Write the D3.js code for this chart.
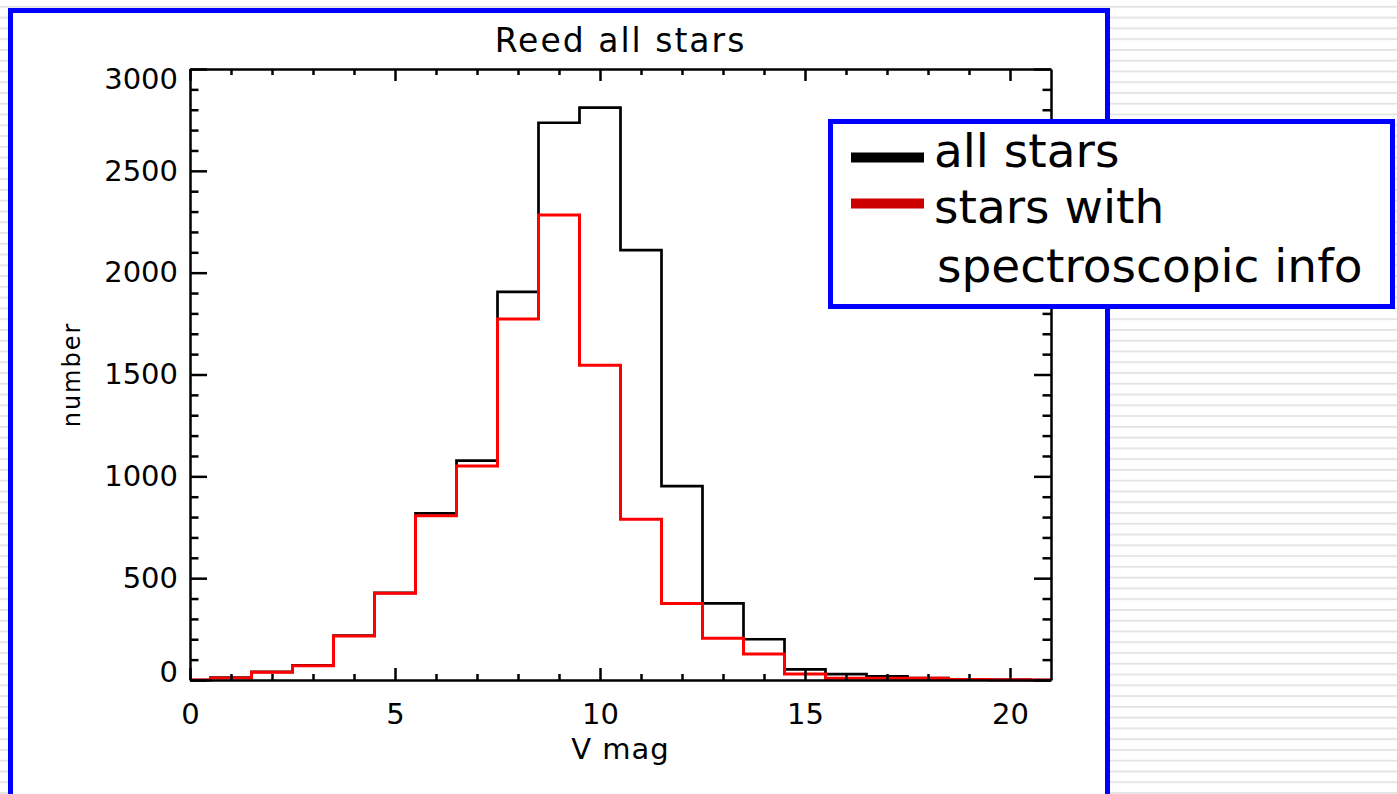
<!DOCTYPE html>
<html>
<head>
<meta charset="utf-8">
<script src="https://cdn.jsdelivr.net/npm/d3@7"></script>
<style>
  html, body { margin: 0; padding: 0; background: #fff; }
  svg { display: block; }
  text { font-family: "DejaVu Sans", sans-serif; fill: #000; }
  .axis path, .axis line { stroke: #000; stroke-width: 2.5; }
  .axis text { font-size: 29px; font-family: "DejaVu Sans", sans-serif; }
</style>
</head>
<body>
<svg id="chart" width="1397" height="794"></svg>
<script>
// Histogram of V magnitude, bin centres (1 mag bins)
const binCenters = [0, 1, 2, 3, 4, 5, 6, 7, 8, 9, 10, 11, 12, 13, 14, 15, 16, 17, 18, 19, 20, 21];
const allStars   = [0, 12, 40, 72, 218, 428, 818, 1077, 1906, 2736, 2810, 2111, 952, 376, 200, 52, 29, 18, 9, 2, 1, 0];
const specStars  = [0, 10, 38, 70, 216, 426, 807, 1051, 1772, 2283, 1546, 789, 376, 205, 128, 29, 8, 8, 8, 2, 1, 0];

const xMajorTicks = [0, 5, 10, 15, 20];
const xMinorTicks = [1, 2, 3, 4, 6, 7, 8, 9, 11, 12, 13, 14, 16, 17, 18, 19];
const yMajorTicks = [0, 500, 1000, 1500, 2000, 2500, 3000];
const yMinorTicks = [100, 200, 300, 400, 600, 700, 800, 900, 1100, 1200, 1300, 1400,
                     1600, 1700, 1800, 1900, 2100, 2200, 2300, 2400, 2600, 2700, 2800, 2900];

const legendItems = [
  { label: ["all stars"], color: "#000000" },
  { label: ["stars with", "spectroscopic info"], color: "#cc0000" }
];

const svg = d3.select("#chart");
const W = 1397, H = 794;

// --- background: slide stripes + framed white panel -----------------------
const defs = svg.append("defs");
const pat = defs.append("pattern")
  .attr("id", "stripes")
  .attr("patternUnits", "userSpaceOnUse")
  .attr("width", 20).attr("height", 10.77)
  .attr("y", 5.9);
pat.append("rect").attr("width", 20).attr("height", 10.77).attr("fill", "#ffffff");
pat.append("rect").attr("width", 20).attr("height", 1.7).attr("fill", "#e2e2e2");

svg.append("rect").attr("width", W).attr("height", H).attr("fill", "url(#stripes)");
svg.append("rect")
  .attr("x", 10.5).attr("y", 10.5)
  .attr("width", 1097).attr("height", 786)
  .attr("fill", "#fff").attr("stroke", "#0000ff").attr("stroke-width", 5);

// --- plot area -------------------------------------------------------------
const plot = { left: 190, right: 1051, top: 69, bottom: 680 };

const x = d3.scaleLinear().domain([0, 21]).range([plot.left, plot.right]);
const y = d3.scaleLinear().domain([0, 3000]).range([plot.bottom, plot.top]);

defs.append("clipPath").attr("id", "plotclip")
  .append("rect")
  .attr("x", plot.left).attr("y", plot.top - 2)
  .attr("width", plot.right - plot.left).attr("height", plot.bottom - plot.top + 4);

const step = d3.line()
  .x(d => x(d[0]))
  .y(d => y(d[1]))
  .curve(d3.curveStep);

const hist = svg.append("g").attr("clip-path", "url(#plotclip)");
hist.append("path")
  .datum(binCenters.map((c, i) => [c, allStars[i]]))
  .attr("d", step)
  .attr("fill", "none").attr("stroke", "#000").attr("stroke-width", 2.7);
hist.append("path")
  .datum(binCenters.map((c, i) => [c, specStars[i]]))
  .attr("d", step)
  .attr("fill", "none").attr("stroke", "#ff0000").attr("stroke-width", 3);

// --- axes (IDL style: ticks on all four sides, pointing inwards) ------------
function addAxis(axis, tx, ty, keepDomain) {
  const g = svg.append("g").attr("class", "axis")
    .attr("transform", `translate(${tx},${ty})`).call(axis);
  if (!keepDomain) g.select(".domain").remove();
  return g;
}

addAxis(d3.axisBottom(x).tickValues(xMajorTicks)
  .tickSizeInner(-12).tickSizeOuter(0).tickPadding(23), 0, plot.bottom, true);
addAxis(d3.axisBottom(x).tickValues(xMinorTicks).tickSize(-6).tickFormat(""), 0, plot.bottom, false);
addAxis(d3.axisTop(x).tickValues(xMajorTicks).tickSizeInner(-12).tickSizeOuter(0).tickFormat(""), 0, plot.top, true);
addAxis(d3.axisTop(x).tickValues(xMinorTicks).tickSize(-6).tickFormat(""), 0, plot.top, false);

const yLeft = addAxis(d3.axisLeft(y).tickValues(yMajorTicks)
  .tickSizeInner(-17).tickSizeOuter(0).tickPadding(12).tickFormat(d3.format("d")), plot.left, 0, true);
addAxis(d3.axisLeft(y).tickValues(yMinorTicks).tickSize(-8.5).tickFormat(""), plot.left, 0, false);
addAxis(d3.axisRight(y).tickValues(yMajorTicks).tickSizeInner(-17).tickSizeOuter(0).tickFormat(""), plot.right, 0, true);
addAxis(d3.axisRight(y).tickValues(yMinorTicks).tickSize(-8.5).tickFormat(""), plot.right, 0, false);

svg.selectAll(".axis text").attr("fill", "#000");
// end labels are pulled inside the axis range, as in the original plot
yLeft.selectAll(".tick text")
  .attr("transform", d => d === 0 ? "translate(0,-8)" : d === 3000 ? "translate(0,10)" : null);

// --- titles ------------------------------------------------------------------
svg.append("text")
  .attr("x", (plot.left + plot.right) / 2).attr("y", 52)
  .attr("text-anchor", "middle")
  .style("font-size", "33px").style("letter-spacing", "2px")
  .text("Reed all stars");

svg.append("text")
  .attr("x", (plot.left + plot.right) / 2).attr("y", 759)
  .attr("text-anchor", "middle")
  .style("font-size", "29px").style("letter-spacing", "1px")
  .text("V mag");

svg.append("text")
  .attr("transform", `translate(80,${(plot.top + plot.bottom) / 2}) rotate(-90)`)
  .attr("text-anchor", "middle")
  .style("font-size", "24px").style("letter-spacing", "2px")
  .text("number");

// --- legend box ------------------------------------------------------------
const lg = svg.append("g");
lg.append("rect")
  .attr("x", 830.5).attr("y", 121.5)
  .attr("width", 562).attr("height", 185)
  .attr("fill", "#fff").attr("stroke", "#0000ff").attr("stroke-width", 5);

const swatchY = [157.5, 203.5];
const lineBaselines = [[167], [223, 282]];
legendItems.forEach((item, i) => {
  lg.append("line")
    .attr("x1", 851).attr("x2", 924)
    .attr("y1", swatchY[i]).attr("y2", swatchY[i])
    .attr("stroke", item.color).attr("stroke-width", 10);
  item.label.forEach((t, j) => {
    lg.append("text")
      .attr("x", j === 0 ? 934 : 937)
      .attr("y", lineBaselines[i][j])
      .style("font-size", "47px")
      .text(t);
  });
});
</script>
</body>
</html>
